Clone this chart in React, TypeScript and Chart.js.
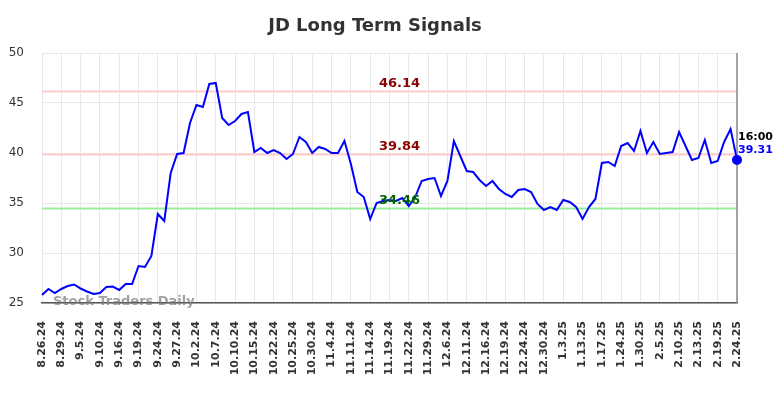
import React, { useEffect, useRef } from "react";
import { Chart, registerables } from "chart.js";

Chart.register(...registerables);

const chartTitle = "JD Long Term Signals";

const tickLabels = [
  "8.26.24", "8.29.24", "9.5.24", "9.10.24", "9.16.24", "9.19.24", "9.24.24", "9.27.24",
  "10.2.24", "10.7.24", "10.10.24", "10.15.24", "10.22.24", "10.25.24", "10.30.24",
  "11.4.24", "11.11.24", "11.14.24", "11.19.24", "11.22.24", "11.29.24", "12.6.24",
  "12.11.24", "12.16.24", "12.19.24", "12.24.24", "12.30.24", "1.3.25", "1.13.25",
  "1.17.25", "1.24.25", "1.30.25", "2.5.25", "2.10.25", "2.13.25", "2.19.25", "2.24.25",
];

const prices = [
  25.8, 26.4, 26.0, 26.4, 26.7, 26.85, 26.45, 26.15, 25.9, 26.0,
  26.6, 26.65, 26.3, 26.9, 26.9, 28.7, 28.6, 29.7, 33.9, 33.2,
  38.0, 39.9, 40.0, 43.0, 44.8, 44.6, 46.9, 47.0, 43.5, 42.8,
  43.2, 43.9, 44.1, 40.1, 40.5, 40.0, 40.3, 40.0, 39.4, 39.9,
  41.6, 41.1, 40.0, 40.6, 40.4, 40.0, 40.0, 41.2, 38.9, 36.1,
  35.6, 33.4, 35.0, 35.2, 35.3, 35.2, 35.5, 34.7, 35.6, 37.2,
  37.4, 37.5, 35.7, 37.2, 41.2, 39.7, 38.2, 38.1, 37.3, 36.7,
  37.2, 36.4, 35.9, 35.6, 36.3, 36.4, 36.1, 34.9, 34.3, 34.6,
  34.3, 35.3, 35.1, 34.6, 33.4, 34.6, 35.4, 39.0, 39.1, 38.7,
  40.7, 41.0, 40.2, 42.2, 40.0, 41.1, 39.9, 40.0, 40.1, 42.1,
  40.7, 39.3, 39.5, 41.3, 39.0, 39.2, 41.1, 42.4, 39.31,
];

const resistanceLevels = [46.14, 39.84];
const supportLevels = [34.46];
const lastTime = "16:00";
const watermark = "Stock Traders Daily";

const W = 784;
const H = 398;
const FONT = "'DejaVu Sans', sans-serif";

const signalsPlugin = {
  id: "signals",
  beforeDatasetsDraw(chart: any) {
    const { ctx, chartArea: a, scales } = chart;
    const ys = scales.y;
    ctx.save();
    ctx.lineWidth = 2;
    ctx.strokeStyle = "#ffcccc";
    for (const v of resistanceLevels) {
      const py = ys.getPixelForValue(v);
      ctx.beginPath();
      ctx.moveTo(a.left, py);
      ctx.lineTo(a.right, py);
      ctx.stroke();
    }
    ctx.strokeStyle = "#99ee99";
    for (const v of supportLevels) {
      const py = ys.getPixelForValue(v);
      ctx.beginPath();
      ctx.moveTo(a.left, py);
      ctx.lineTo(a.right, py);
      ctx.stroke();
    }
    ctx.strokeStyle = "#888888";
    ctx.lineWidth = 1.5;
    ctx.beginPath();
    ctx.moveTo(a.right, a.top);
    ctx.lineTo(a.right, a.bottom);
    ctx.stroke();
    ctx.restore();
  },
  afterDatasetsDraw(chart: any) {
    const { ctx, chartArea: a, scales } = chart;
    const ys = scales.y;
    const xs = scales.x;
    ctx.save();
    const cx = (a.left + a.right) / 2 + 10;
    ctx.textAlign = "center";
    ctx.textBaseline = "middle";
    ctx.font = `bold 13px ${FONT}`;
    ctx.fillStyle = "#8b0000";
    for (const v of resistanceLevels) {
      ctx.fillText(v.toFixed(2), cx, ys.getPixelForValue(v) - 8);
    }
    ctx.fillStyle = "#006400";
    for (const v of supportLevels) {
      ctx.fillText(v.toFixed(2), cx, ys.getPixelForValue(v) - 8);
    }
    // watermark
    ctx.textAlign = "left";
    ctx.font = `bold 13px ${FONT}`;
    ctx.fillStyle = "rgba(120,120,120,0.7)";
    ctx.fillText(watermark, a.left + 11, a.bottom - 1);
    // last value annotation
    const li = prices.length - 1;
    const px = xs.getPixelForValue(li);
    const py = ys.getPixelForValue(prices[li]);
    ctx.font = `bold 11px ${FONT}`;
    ctx.fillStyle = "#000000";
    ctx.fillText(lastTime, px + 1, py - 23);
    ctx.fillStyle = "#0000ff";
    ctx.fillText(prices[li].toFixed(2), px + 1, py - 10);
    ctx.restore();
  },
  afterDraw(chart: any) {
    const { ctx } = chart;
    ctx.save();
    ctx.font = `bold 18px ${FONT}`;
    ctx.fillStyle = "#333333";
    ctx.textAlign = "center";
    ctx.textBaseline = "middle";
    ctx.fillText(chartTitle, 375, 26);
    ctx.restore();
  },
};

export default function App() {
  const ref = useRef<HTMLCanvasElement | null>(null);
  useEffect(() => {
    if (!ref.current) return;
    const lastIdx = prices.length - 1;
    const chart = new Chart(ref.current, {
      type: "line",
      data: {
        datasets: [
          {
            data: prices.map((v, i) => ({ x: i, y: v })),
            borderColor: "#0000ff",
            backgroundColor: "#0000ff",
            borderWidth: 2,
            pointRadius: (c: any) => (c.dataIndex === lastIdx ? 4 : 0),
            pointHoverRadius: 0,
            tension: 0,
            clip: false as any,
          },
        ],
      },
      options: {
        animation: false,
        responsive: false,
        maintainAspectRatio: false,
        events: [],
        layout: { padding: { top: 53, right: 47, left: 0, bottom: 0 } },
        plugins: {
          legend: { display: false },
          title: { display: false },
          tooltip: { enabled: false },
        },
        scales: {
          x: {
            type: "linear",
            min: 0,
            max: prices.length - 1,
            afterFit: (s: any) => {
              s.height = 95;
            },
            grid: { color: "#e8e8e8", lineWidth: 1, drawTicks: false },
            border: { display: true, color: "#555555", width: 1.5 },
            ticks: {
              stepSize: 3,
              autoSkip: false,
              maxRotation: 90,
              minRotation: 90,
              padding: 18,
              color: "#333333",
              font: { family: FONT, size: 11, weight: "bold" },
              callback: (v: any) => tickLabels[Math.round(Number(v) / 3)] ?? "",
            },
          },
          y: {
            min: 25,
            max: 50,
            afterFit: (s: any) => {
              s.width = 42;
            },
            grid: { color: "#e8e8e8", lineWidth: 1, drawTicks: false },
            border: { display: false },
            ticks: {
              stepSize: 5,
              padding: 18,
              color: "#333333",
              font: { family: FONT, size: 12 },
            },
          },
        },
      },
      plugins: [signalsPlugin],
    });
    return () => chart.destroy();
  }, []);
  return (
    <div style={{ position: "absolute", left: 0, top: 0, width: W, height: H, background: "#ffffff" }}>
      <canvas ref={ref} width={W} height={H} style={{ display: "block", width: W, height: H }} />
    </div>
  );
}
